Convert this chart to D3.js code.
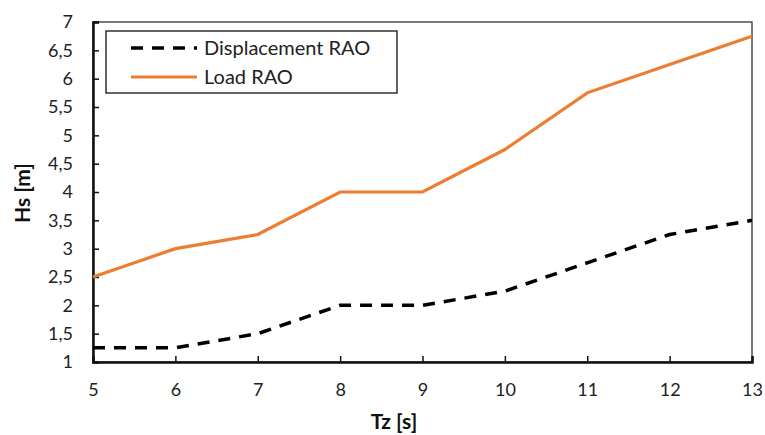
<!DOCTYPE html>
<html>
<head>
<meta charset="utf-8">
<script src="https://cdn.jsdelivr.net/npm/d3@7"></script>
<style>
body{margin:0;background:#fff;}
text{font-family:Lato,"Open Sans",sans-serif;}
</style>
</head>
<body>
<svg id="chart" width="765" height="435"></svg>
<script>
var tz = [5,6,7,8,9,10,11,12,13];
var dispRAO = [1.25,1.25,1.5,2,2,2.25,2.75,3.25,3.5];
var loadRAO = [2.5,3,3.25,4,4,4.75,5.75,6.25,6.75];
var yTicks = [1,1.5,2,2.5,3,3.5,4,4.5,5,5.5,6,6.5,7];
var seriesNames = ["Displacement RAO","Load RAO"];

var svg = d3.select("#chart");
var L = 93, R = 752, T = 22, B = 362;

var x = d3.scaleLinear().domain([5,13]).range([L,R]);
var y = d3.scaleLinear().domain([1,7]).range([B,T]);
var fmt = function(d){ return String(d).replace(".",","); };

// plot frame (top/right thin)
svg.append("rect").attr("x",L).attr("y",T).attr("width",R-L).attr("height",B-T)
	.attr("fill","none").attr("stroke","#222").attr("stroke-width",1.2);

var xAxis = svg.append("g").attr("transform","translate(0,"+B+")")
	.call(d3.axisBottom(x).tickValues(tz).tickSize(-6).tickPadding(21).tickFormat(fmt));
var yAxis = svg.append("g").attr("transform","translate("+L+",0)")
	.call(d3.axisLeft(y).tickValues(yTicks).tickSize(-6).tickPadding(20).tickFormat(fmt));

[xAxis,yAxis].forEach(function(a){
	a.select(".domain").attr("stroke","#111").attr("stroke-width",2.5);
	a.selectAll(".tick line").attr("stroke","#111").attr("stroke-width",1.5);
	a.selectAll(".tick text").attr("font-size",18).attr("fill","#222")
		.style("font-family","Lato,'Open Sans',sans-serif");
});

var line = d3.line().x(function(d,i){ return x(tz[i]); }).y(function(d){ return y(d); });

svg.append("path").datum(loadRAO).attr("d",line)
	.attr("fill","none").attr("stroke","#ED7D31").attr("stroke-width",3.2);
svg.append("path").datum(dispRAO).attr("d",line)
	.attr("fill","none").attr("stroke","#000").attr("stroke-width",3.5)
	.attr("stroke-dasharray","12,9");

// legend
var lg = svg.append("g");
lg.append("rect").attr("x",106).attr("y",31).attr("width",291).attr("height",62)
	.attr("fill","#fff").attr("stroke","#111").attr("stroke-width",1.3);
lg.append("line").attr("x1",131).attr("x2",197).attr("y1",48).attr("y2",48)
	.attr("stroke","#000").attr("stroke-width",3.5).attr("stroke-dasharray","12,9");
lg.append("line").attr("x1",131).attr("x2",197).attr("y1",77).attr("y2",77)
	.attr("stroke","#ED7D31").attr("stroke-width",3.2);
lg.selectAll("text.lbl").data(seriesNames).enter().append("text")
	.attr("x",204).attr("y",function(d,i){ return 48 + i*29; })
	.attr("dy","0.35em").attr("font-size",20).attr("fill","#222")
	.text(function(d){ return d; });

// axis titles
svg.append("text").attr("x",394).attr("y",429).attr("text-anchor","middle")
	.attr("font-size",21).attr("font-weight","bold").attr("fill","#111").text("Tz [s]");
svg.append("text").attr("transform","translate(30,193) rotate(-90)").attr("text-anchor","middle")
	.attr("font-size",21).attr("font-weight","bold").attr("fill","#111").text("Hs [m]");
</script>
</body>
</html>
